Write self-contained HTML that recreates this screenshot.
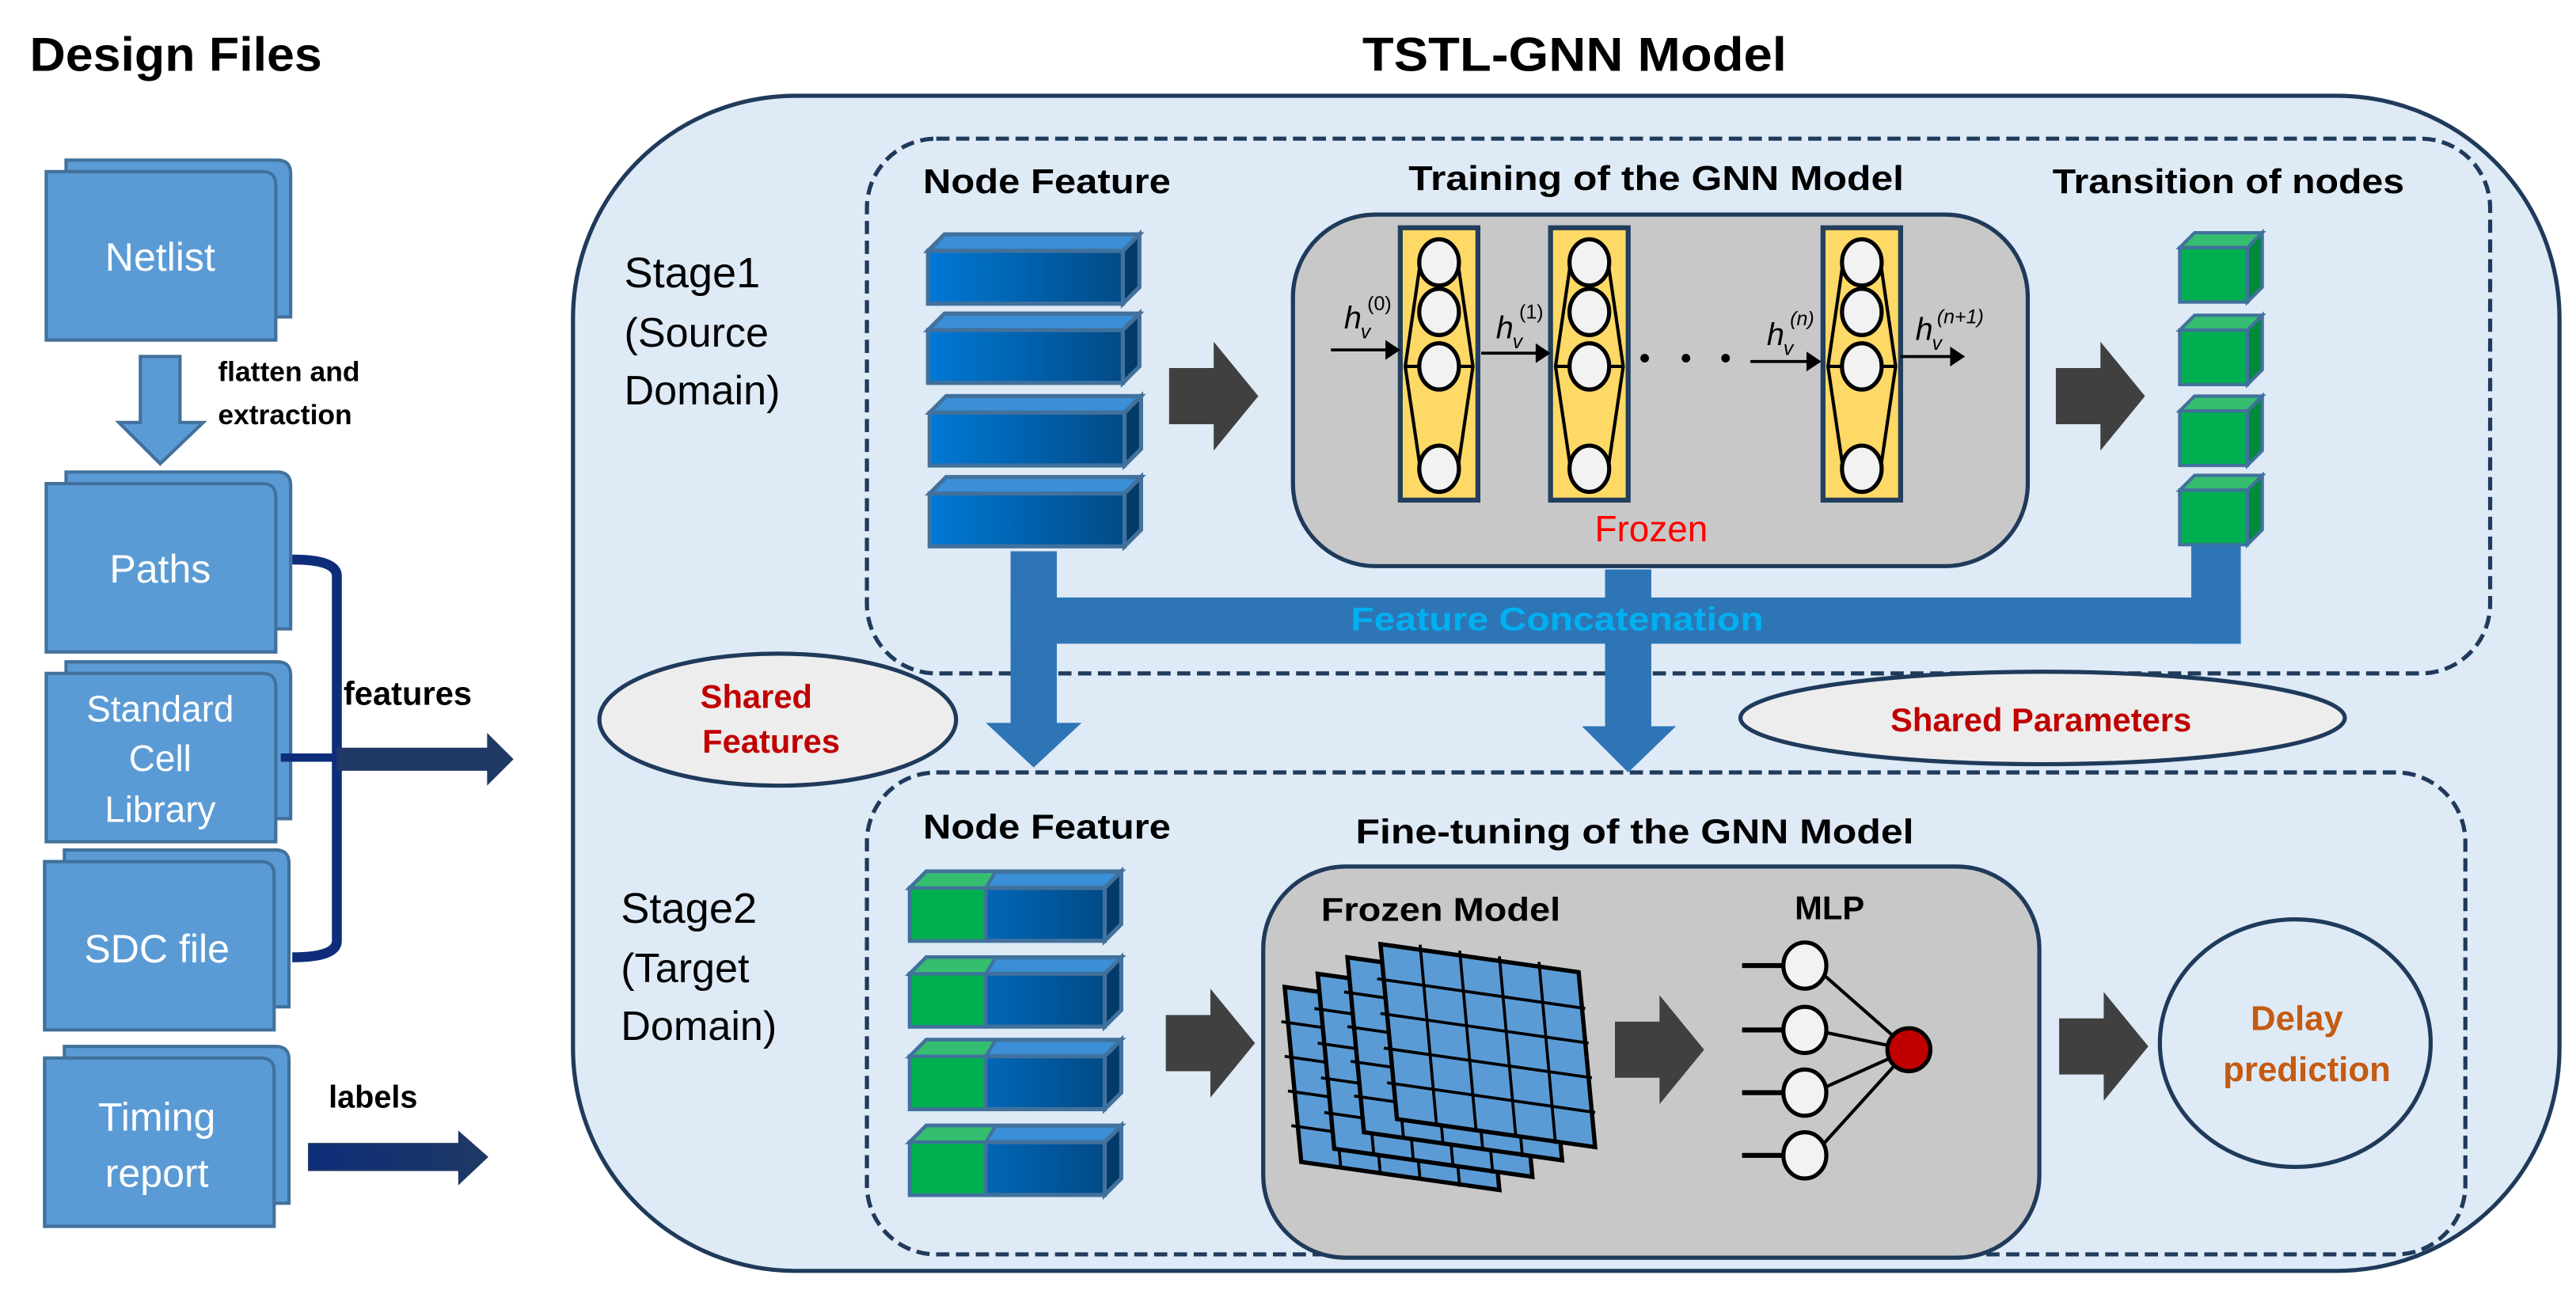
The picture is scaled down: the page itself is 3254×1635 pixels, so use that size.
<!DOCTYPE html>
<html><head><meta charset="utf-8"><style>
html,body{margin:0;padding:0;background:#fff;}
svg{display:block;}
text{font-family:"Liberation Sans",sans-serif;}
</style></head><body>
<svg width="3254" height="1635" viewBox="0 0 1560 784" preserveAspectRatio="none" xmlns="http://www.w3.org/2000/svg">
<defs>
<linearGradient id="bg" x1="0" x2="1" y1="0" y2="0"><stop offset="0" stop-color="#0079d6"/><stop offset="1" stop-color="#024a86"/></linearGradient>
<linearGradient id="nav" x1="0" x2="1"><stop offset="0" stop-color="#0d2d7a"/><stop offset="1" stop-color="#1f3864"/></linearGradient>
<g id="bcube">
<polygon points="0,10 10,0 128,0 118,10" fill="#3a8fd6" stroke="#41719c" stroke-width="2.5"/>
<polygon points="118,10 128,0 128,32 118,42" fill="#023a6a" stroke="#41719c" stroke-width="2.5"/>
<rect x="0" y="10" width="118" height="32" fill="url(#bg)" stroke="#41719c" stroke-width="2.5"/>
</g>
<g id="gcube">
<polygon points="0,9 9,0 50,0 41,9" fill="#35be70" stroke="#41719c" stroke-width="2"/>
<polygon points="41,9 50,0 50,33 41,42" fill="#008a3c" stroke="#41719c" stroke-width="2"/>
<rect x="0" y="9" width="41" height="33" fill="#00b050" stroke="#41719c" stroke-width="2"/>
</g>
<g id="mcube">
<polygon points="0,10 10,0 128,0 118,10" fill="#3a8fd6" stroke="#41719c" stroke-width="2.5"/>
<polygon points="118,10 128,0 128,32 118,42" fill="#023a6a" stroke="#41719c" stroke-width="2.5"/>
<rect x="0" y="10" width="118" height="32" fill="url(#bg)" stroke="#41719c" stroke-width="2.5"/>
<polygon points="0,10 10,0 52,0 46,10" fill="#35be70" stroke="#41719c" stroke-width="2"/>
<rect x="0" y="10" width="46" height="32" fill="#00b050" stroke="#41719c" stroke-width="2"/>
</g>
<g id="col">
<rect x="0" y="0" width="47" height="165" fill="#ffd966" stroke="#233f5f" stroke-width="3"/>
<polyline points="12,22 3,84 12,145" fill="none" stroke="#000" stroke-width="2"/>
<polyline points="35,22 44,84 35,145" fill="none" stroke="#000" stroke-width="2"/>
<line x1="3" y1="84" x2="44" y2="84" stroke="#000" stroke-width="2"/>
<ellipse cx="23.5" cy="21" rx="12" ry="14" fill="#f2f2f2" stroke="#000" stroke-width="2.5"/>
<ellipse cx="23.5" cy="51" rx="12" ry="14" fill="#f2f2f2" stroke="#000" stroke-width="2.5"/>
<ellipse cx="23.5" cy="84" rx="12" ry="14" fill="#f2f2f2" stroke="#000" stroke-width="2.5"/>
<ellipse cx="23.5" cy="146" rx="12" ry="14" fill="#f2f2f2" stroke="#000" stroke-width="2.5"/>
</g>
<g id="sheet">
<polygon points="0,0 120,17 130,123 10,106" fill="#5b9bd5"/>
<g stroke="#000" stroke-width="1.8">
<line x1="24" y1="0.4" x2="34" y2="110"/><line x1="48" y1="4" x2="58" y2="114"/><line x1="72" y1="7.4" x2="82" y2="117"/><line x1="96" y1="10.8" x2="106" y2="121"/>
<line x1="-2" y1="21" x2="124" y2="39"/><line x1="0" y1="42" x2="126" y2="60"/><line x1="2" y1="63" x2="128" y2="81"/><line x1="4" y1="84" x2="130" y2="102"/>
</g>
<polygon points="0,0 120,17 130,123 10,106" fill="none" stroke="#000" stroke-width="2.6"/>
</g>
<g id="barrow"><polygon points="0,-17 27,-17 27,-33 54,0 27,33 27,17 0,17" fill="#404040"/></g>
<g id="doc">
<path d="M12,-7 H140 Q148,-7 148,1 V88 H12 Z" fill="#5b9bd5" stroke="#41719c" stroke-width="2"/>
<path d="M0,0 H131 Q139,0 139,8 V102 H0 Z" fill="#5b9bd5" stroke="#41719c" stroke-width="2"/>
</g>
</defs>

<!-- titles -->
<text x="18" y="43" font-size="29" font-weight="bold" textLength="177" lengthAdjust="spacingAndGlyphs">Design Files</text>
<text x="825" y="43" font-size="29" font-weight="bold" textLength="257" lengthAdjust="spacingAndGlyphs">TSTL-GNN Model</text>

<!-- left docs -->
<use href="#doc" transform="translate(28,104)"/>
<text x="97" y="164" font-size="24" fill="#fff" text-anchor="middle">Netlist</text>
<polygon points="85,216 109,216 109,256 123,256 97,281 72,256 85,256" fill="#5b9bd5" stroke="#41719c" stroke-width="2"/>
<text x="132" y="231" font-size="17" font-weight="bold">flatten and</text>
<text x="132" y="257" font-size="17" font-weight="bold">extraction</text>

<use href="#doc" transform="translate(28,293)"/>
<text x="97" y="353" font-size="24" fill="#fff" text-anchor="middle">Paths</text>
<use href="#doc" transform="translate(28,408)"/>
<text x="97" y="437" font-size="22" fill="#fff" text-anchor="middle">Standard</text>
<text x="97" y="467" font-size="22" fill="#fff" text-anchor="middle">Cell</text>
<text x="97" y="498" font-size="22" fill="#fff" text-anchor="middle">Library</text>
<use href="#doc" transform="translate(27,522)"/>
<text x="95" y="583" font-size="24" fill="#fff" text-anchor="middle">SDC file</text>
<use href="#doc" transform="translate(27,641)"/>
<text x="95" y="685" font-size="24" fill="#fff" text-anchor="middle">Timing</text>
<text x="95" y="719" font-size="24" fill="#fff" text-anchor="middle">report</text>

<path d="M177,339 Q204,339 204,349 V570 Q204,580 177,580" fill="none" stroke="#0d2d7a" stroke-width="6"/>
<line x1="170" y1="459" x2="295" y2="459" stroke="#0d2d7a" stroke-width="5"/>
<polygon points="204,453 295,453 295,444 311,460 295,476 295,467 204,467" fill="#1f3864"/>
<text x="208" y="427" font-size="20" font-weight="bold">features</text>
<text x="199" y="671" font-size="19" font-weight="bold">labels</text>
<polygon points="187,693 278,693 278,686 295,701 278,717 278,709 187,709" fill="url(#nav)" stroke="#1f3864" stroke-width="1"/>

<!-- outer container -->
<rect x="347" y="58" width="1203" height="712" rx="135" ry="135" fill="#deeaf6" stroke="#1f3a5a" stroke-width="2.5"/>
<rect x="525" y="84" width="983" height="324" rx="42" ry="42" fill="none" stroke="#1f3a5a" stroke-width="2.5" stroke-dasharray="8,4"/>
<rect x="525" y="468" width="968" height="292" rx="42" ry="42" fill="none" stroke="#1f3a5a" stroke-width="2.5" stroke-dasharray="8,4"/>

<text x="378" y="174" font-size="26">Stage1</text>
<text x="378" y="210" font-size="25">(Source</text>
<text x="378" y="245" font-size="25">Domain)</text>
<text x="376" y="559" font-size="26">Stage2</text>
<text x="376" y="595" font-size="25">(Target</text>
<text x="376" y="630" font-size="25">Domain)</text>

<!-- stage 1 -->
<text x="559" y="117" font-size="21" font-weight="bold" textLength="150" lengthAdjust="spacingAndGlyphs">Node Feature</text>
<text x="853" y="115" font-size="21" font-weight="bold" textLength="300" lengthAdjust="spacingAndGlyphs">Training of the GNN Model</text>
<text x="1243" y="117" font-size="21" font-weight="bold" textLength="213" lengthAdjust="spacingAndGlyphs">Transition of nodes</text>

<use href="#bcube" transform="translate(562,142)"/>
<use href="#bcube" transform="translate(562,190)"/>
<use href="#bcube" transform="translate(563,240)"/>
<use href="#bcube" transform="translate(563,289)"/>

<use href="#barrow" transform="translate(708,240)"/>
<rect x="783" y="130" width="445" height="213" rx="50" ry="50" fill="#c8c8c8" stroke="#1f3a5a" stroke-width="2.5"/>
<use href="#col" transform="translate(848,138)"/>
<use href="#col" transform="translate(939,138)"/>
<use href="#col" transform="translate(1104,138)"/>
<g fill="#000">
<line x1="806" y1="212" x2="840" y2="212" stroke="#000" stroke-width="1.8"/><polygon points="839,206 848,212 839,218"/>
<line x1="897" y1="214" x2="931" y2="214" stroke="#000" stroke-width="1.8"/><polygon points="930,208 939,214 930,220"/>
<line x1="1060" y1="219" x2="1095" y2="219" stroke="#000" stroke-width="1.8"/><polygon points="1094,213 1103,219 1094,225"/>
<line x1="1151" y1="216" x2="1182" y2="216" stroke="#000" stroke-width="1.8"/><polygon points="1181,210 1190,216 1181,222"/>
<circle cx="996" cy="217" r="2.6"/><circle cx="1021" cy="217" r="2.6"/><circle cx="1045" cy="217" r="2.6"/>
</g>
<g font-family="Liberation Serif" font-style="italic">
<text x="814" y="199" font-size="19">h</text><text x="824" y="205" font-size="12">v</text><text x="828" y="188" font-size="12" font-style="normal">(0)</text>
<text x="906" y="205" font-size="19">h</text><text x="916" y="211" font-size="12">v</text><text x="920" y="193" font-size="12" font-style="normal">(1)</text>
<text x="1070" y="209" font-size="19">h</text><text x="1080" y="215" font-size="12">v</text><text x="1084" y="197" font-size="12">(n)</text>
<text x="1160" y="206" font-size="19">h</text><text x="1170" y="212" font-size="12">v</text><text x="1173" y="196" font-size="12">(n+1)</text>
</g>
<text x="1000" y="328" font-size="22" fill="#ff0000" text-anchor="middle">Frozen</text>

<use href="#barrow" transform="translate(1245,240)"/>
<use href="#gcube" transform="translate(1320,141)"/>
<use href="#gcube" transform="translate(1320,191)"/>
<use href="#gcube" transform="translate(1320,240)"/>
<use href="#gcube" transform="translate(1320,288)"/>

<!-- feature concatenation -->
<g fill="#2e75b6">
<rect x="612" y="334" width="28" height="106"/>
<polygon points="597,438 655,438 626,465"/>
<rect x="972" y="345" width="28" height="97"/>
<polygon points="958,440 1015,440 986,468"/>
<rect x="612" y="362" width="745" height="28"/>
<rect x="1327" y="330" width="30" height="60"/>
</g>
<text x="818" y="382" font-size="20" font-weight="bold" fill="#00b0f0" textLength="250" lengthAdjust="spacingAndGlyphs">Feature Concatenation</text>

<ellipse cx="471" cy="436" rx="108" ry="40" fill="#ededed" stroke="#1f3a5a" stroke-width="2.5"/>
<text x="458" y="429" font-size="20" font-weight="bold" fill="#c00000" text-anchor="middle">Shared</text>
<text x="467" y="456" font-size="20" font-weight="bold" fill="#c00000" text-anchor="middle">Features</text>
<ellipse cx="1237" cy="435" rx="183" ry="28" fill="#ededed" stroke="#1f3a5a" stroke-width="2.5"/>
<text x="1236" y="443" font-size="20" font-weight="bold" fill="#c00000" text-anchor="middle">Shared Parameters</text>

<!-- stage 2 -->
<text x="559" y="508" font-size="21" font-weight="bold" textLength="150" lengthAdjust="spacingAndGlyphs">Node Feature</text>
<text x="821" y="511" font-size="21" font-weight="bold" textLength="338" lengthAdjust="spacingAndGlyphs">Fine-tuning of the GNN Model</text>
<use href="#mcube" transform="translate(551,528)"/>
<use href="#mcube" transform="translate(551,580)"/>
<use href="#mcube" transform="translate(551,630)"/>
<use href="#mcube" transform="translate(551,682)"/>

<use href="#barrow" transform="translate(706,632)"/>
<rect x="765" y="525" width="470" height="237" rx="50" ry="50" fill="#c8c8c8" stroke="#1f3a5a" stroke-width="2.5"/>
<text x="800" y="558" font-size="20" font-weight="bold" textLength="145" lengthAdjust="spacingAndGlyphs">Frozen Model</text>
<text x="1108" y="557" font-size="20" font-weight="bold" text-anchor="middle">MLP</text>

<use href="#sheet" transform="translate(778,598)"/>
<use href="#sheet" transform="translate(798,590)"/>
<use href="#sheet" transform="translate(816,580)"/>
<use href="#sheet" transform="translate(836,572)"/>

<use href="#barrow" transform="translate(978,636)"/>

<g stroke="#000" stroke-width="2">
<line x1="1055" y1="585" x2="1080" y2="585" stroke-width="3"/>
<line x1="1055" y1="624" x2="1080" y2="624" stroke-width="3"/>
<line x1="1055" y1="662" x2="1080" y2="662" stroke-width="3"/>
<line x1="1055" y1="700" x2="1080" y2="700" stroke-width="3"/>
<line x1="1098" y1="585" x2="1156" y2="636"/>
<line x1="1098" y1="624" x2="1156" y2="636"/>
<line x1="1098" y1="662" x2="1156" y2="636"/>
<line x1="1098" y1="700" x2="1156" y2="636"/>
</g>
<g fill="#f2f2f2" stroke="#000" stroke-width="2.5">
<ellipse cx="1093" cy="585" rx="13" ry="14"/>
<ellipse cx="1093" cy="624" rx="13" ry="14"/>
<ellipse cx="1093" cy="662" rx="13" ry="14"/>
<ellipse cx="1093" cy="700" rx="13" ry="14"/>
</g>
<ellipse cx="1156" cy="636" rx="13" ry="13" fill="#c00000" stroke="#000" stroke-width="2.5"/>

<use href="#barrow" transform="translate(1247,634)"/>
<ellipse cx="1390" cy="632" rx="82" ry="75" fill="#deeaf6" stroke="#1f3a5a" stroke-width="2.5"/>
<text x="1391" y="624" font-size="21" font-weight="bold" fill="#c55a11" text-anchor="middle">Delay</text>
<text x="1397" y="655" font-size="21" font-weight="bold" fill="#c55a11" text-anchor="middle">prediction</text>
</svg>
</body></html>
